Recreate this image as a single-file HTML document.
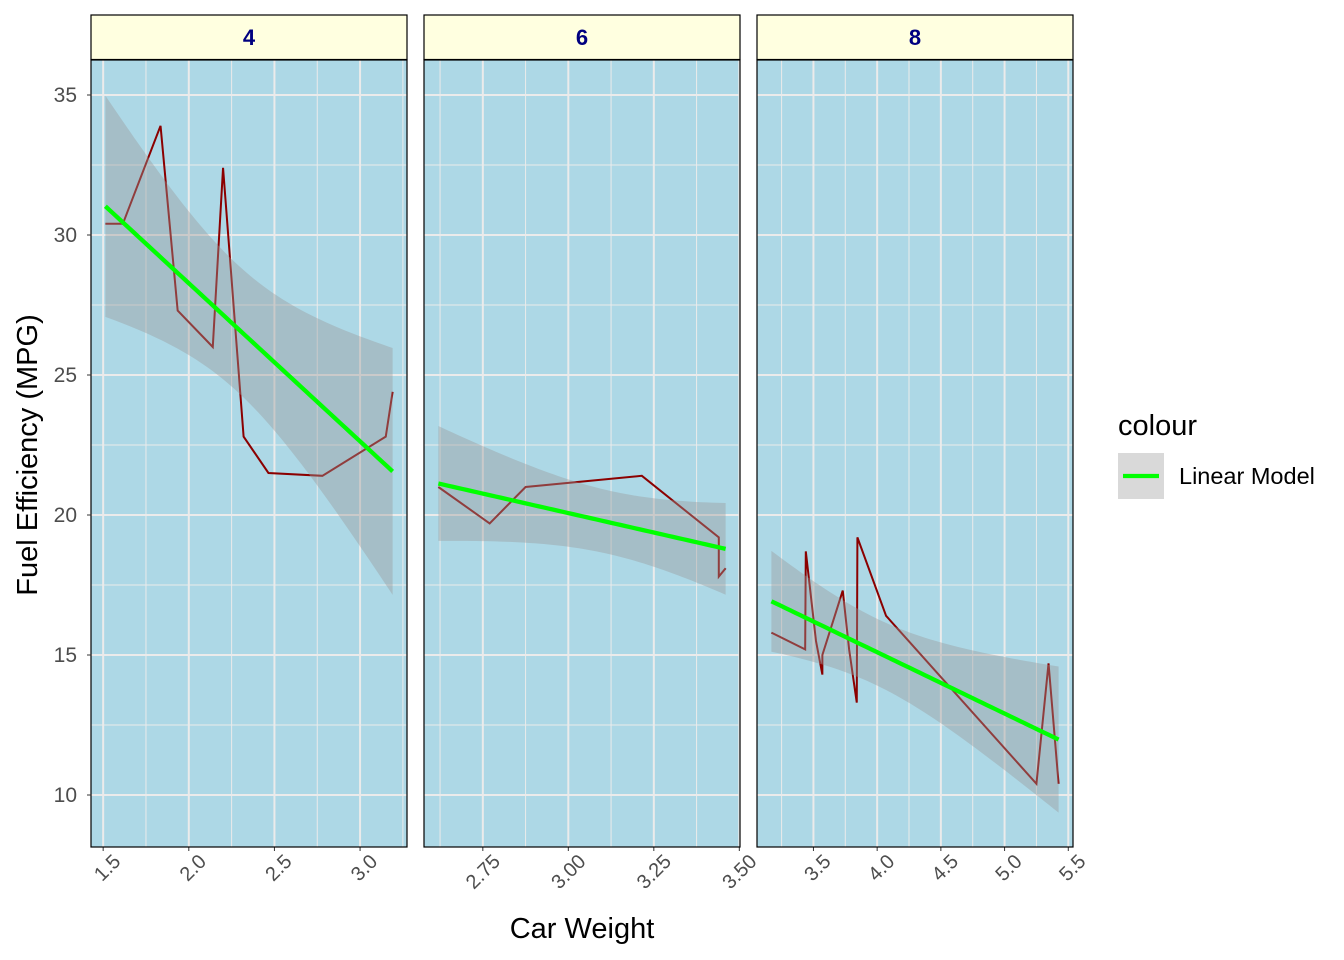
<!DOCTYPE html>
<html><head><meta charset="utf-8"><style>
body{margin:0;background:#fff;font-family:"Liberation Sans",sans-serif;}
svg{display:block}
</style></head><body>
<svg id="s" width="1344" height="960" xmlns="http://www.w3.org/2000/svg" font-family="Liberation Sans, sans-serif"></svg>
<script>
const S=document.getElementById('s');let h='';
const Y=v=>795-(v-10)*28;
const panels=[
 {x0:91,lo:1.429,hi:3.274,lab:'4',ticks:[1.5,2,2.5,3],minor:[1.75,2.25,2.75,3.25],tl:['1.5','2.0','2.5','3.0'],
  d:[[1.513,30.4],[1.615,30.4],[1.835,33.9],[1.935,27.3],[2.14,26],[2.2,32.4],[2.32,22.8],[2.465,21.5],[2.78,21.4],[3.15,22.8],[3.19,24.4]],
  a:39.571,b:-5.647,n:11,xb:2.286,sxx:3.244,A:7.53},
 {x0:424,lo:2.578,hi:3.502,lab:'6',ticks:[2.75,3,3.25,3.5],minor:[2.625,2.875,3.125,3.375],tl:['2.75','3.00','3.25','3.50'],
  d:[[2.62,21],[2.77,19.7],[2.875,21],[3.215,21.4],[3.44,19.2],[3.44,17.8],[3.46,18.1]],
  a:28.409,b:-2.780,n:7,xb:3.117,sxx:0.761,A:3.0},
 {x0:757,lo:3.057,hi:5.537,lab:'8',ticks:[3.5,4,4.5,5,5.5],minor:[3.25,3.75,4.25,4.75,5.25],tl:['3.5','4.0','4.5','5.0','5.5'],
  d:[[3.17,15.8],[3.435,15.2],[3.44,18.7],[3.52,15.5],[3.57,14.3],[3.57,15],[3.73,17.3],[3.78,15.2],[3.84,13.3],[3.845,19.2],[4.07,16.4],[5.25,10.4],[5.345,14.7],[5.424,10.4]],
  a:23.868,b:-2.192,n:14,xb:3.999,sxx:7.4975,A:4.46}
];
for(const p of panels){
 const W=316,X=v=>p.x0+(v-p.lo)/(p.hi-p.lo)*W;
 h+=`<rect x="${p.x0}" y="60" width="${W}" height="787" fill="#ADD8E6"/>`;
 for(const v of [12.5,17.5,22.5,27.5,32.5]) h+=`<line x1="${p.x0}" x2="${p.x0+W}" y1="${Y(v)}" y2="${Y(v)}" stroke="#EBEBEB" stroke-width="1"/>`;
 for(const v of p.minor){const x=X(v);if(x>p.x0&&x<p.x0+W)h+=`<line x1="${x}" x2="${x}" y1="60" y2="847" stroke="#EBEBEB" stroke-width="1"/>`;}
 for(const v of [10,15,20,25,30,35]) h+=`<line x1="${p.x0}" x2="${p.x0+W}" y1="${Y(v)}" y2="${Y(v)}" stroke="#EBEBEB" stroke-width="2"/>`;
 p.ticks.forEach((v,i)=>{const x=X(v);if(x<=p.x0+W)h+=`<line x1="${x}" x2="${x}" y1="60" y2="847" stroke="#EBEBEB" stroke-width="2"/>`;
  h+=`<line x1="${x}" x2="${x}" y1="847" y2="851" stroke="#333"/>`;
  h+=`<text transform="translate(${x+8},${852}) rotate(-45)" text-anchor="end" font-size="20" fill="#4D4D4D" dy="0.75em">${p.tl[i]}</text>`;});
 h+=`<polyline fill="none" stroke="#8B0000" stroke-width="2" points="${p.d.map(q=>X(q[0])+','+Y(q[1])).join(' ')}"/>`;
 const x1=p.d[0][0],x2=p.d[p.d.length-1][0];let up=[],dn=[],fit=[];
 for(let i=0;i<=60;i++){const x=x1+(x2-x1)*i/60,f=p.a+p.b*x,hw=p.A*Math.sqrt(1/p.n+(x-p.xb)**2/p.sxx);
  up.push(X(x)+','+Y(f+hw));dn.unshift(X(x)+','+Y(f-hw));fit.push(X(x)+','+Y(f));}
 h+=`<polygon points="${up.concat(dn).join(' ')}" fill="#999999" fill-opacity="0.4"/>`;
 h+=`<polyline points="${fit.join(' ')}" fill="none" stroke="#00FF00" stroke-width="4.3"/>`;
 h+=`<rect x="${p.x0}" y="60" width="${W}" height="787" fill="none" stroke="#000" stroke-width="1.2"/>`;
 h+=`<rect x="${p.x0}" y="15" width="${W}" height="44.5" fill="#FFFFE0" stroke="#000" stroke-width="1.2"/>`;
 h+=`<text x="${p.x0+W/2}" y="45" text-anchor="middle" font-size="22" font-weight="bold" fill="#000080">${p.lab}</text>`;
}
for(const v of [10,15,20,25,30,35]){h+=`<line x1="87" x2="91" y1="${Y(v)}" y2="${Y(v)}" stroke="#333"/><text x="77" y="${Y(v)+7}" text-anchor="end" font-size="21" fill="#4D4D4D">${v}</text>`;}
h+=`<text x="582" y="938" text-anchor="middle" font-size="29" fill="#000">Car Weight</text>`;
h+=`<text transform="translate(37,455) rotate(-90)" text-anchor="middle" font-size="29" fill="#000">Fuel Efficiency (MPG)</text>`;
h+=`<text x="1118" y="435" font-size="29" fill="#000">colour</text>`;
h+=`<rect x="1118" y="453" width="46" height="46" fill="#D9D9D9"/><line x1="1123" x2="1159" y1="476" y2="476" stroke="#00FF00" stroke-width="4.3"/>`;
h+=`<text x="1179" y="484" font-size="23.5" fill="#000">Linear Model</text>`;
S.innerHTML=h;
</script>
</body></html>
